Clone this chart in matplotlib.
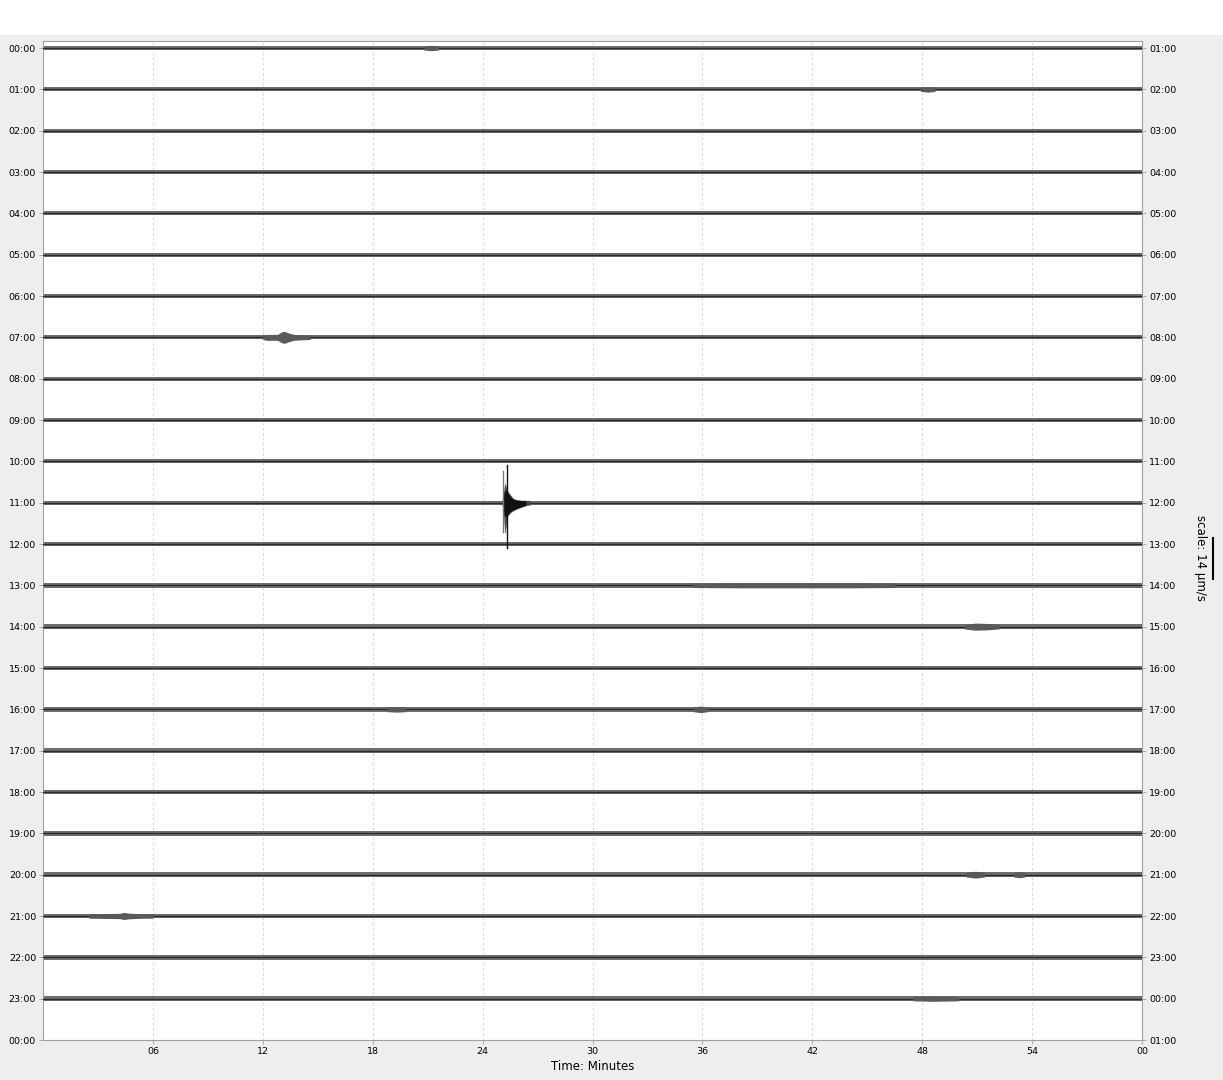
import numpy as np
import matplotlib
matplotlib.use("Agg")
import matplotlib.pyplot as plt
from matplotlib.patches import Rectangle
from matplotlib.lines import Line2D
from matplotlib.transforms import blended_transform_factory

# ---------------- data ----------------
ROW_STEP = 14.0  # µm/s per row (scale bar)
left_labels = ["%02d:00" % h for h in range(24)] + ["00:00"]
right_labels = ["%02d:00" % ((h + 1) % 24) for h in range(25)]
minute_ticks = [6, 12, 18, 24, 30, 36, 42, 48, 54, 60]
minute_labels = ["06", "12", "18", "24", "30", "36", "42", "48", "54", "00"]

# background noise half-amplitude per hourly row (µm/s)
row_noise = [0.7, 0.7, 0.7, 0.7, 0.7, 0.7, 0.72, 0.72, 0.7, 0.7,
             0.7, 0.72, 0.74, 0.74, 0.76, 0.78, 0.8, 0.78, 0.74, 0.78,
             0.8, 0.74, 0.74, 0.74]

# small bursts: (row, minutes, half-amplitudes µm/s)
burst_rows = [7, 14, 16, 16, 20, 20, 21, 13, 23, 1, 0]
burst_minutes = [
    [12.0, 12.2, 12.8, 13.05, 13.2, 13.4, 13.7, 14.1, 14.6],
    [50.3, 50.9, 51.5, 52.2],
    [35.5, 35.9, 36.3],
    [18.8, 19.3, 19.8],
    [50.4, 50.9, 51.4],
    [53.0, 53.3, 53.6],
    [2.5, 4.2, 4.4, 4.7, 5.2, 6.0],
    [35.5, 38.0, 44.0, 46.5],
    [47.5, 48.6, 50.0],
    [47.9, 48.3, 48.7],
    [20.8, 21.2, 21.6],
]
burst_amps = [
    [0.7, 1.0, 1.0, 1.9, 2.0, 1.5, 1.0, 0.85, 0.7],
    [0.76, 1.2, 1.1, 0.76],
    [0.8, 1.1, 0.8],
    [0.8, 0.95, 0.8],
    [0.8, 1.15, 0.8],
    [0.8, 1.05, 0.8],
    [0.74, 0.9, 1.2, 0.95, 0.8, 0.74],
    [0.74, 0.85, 0.85, 0.74],
    [0.74, 0.9, 0.74],
    [0.7, 0.95, 0.7],
    [0.7, 0.9, 0.7],
]

# main event in the 11:00 row (outer envelope and dark core)
event_row = 11
event_minutes = [25.08, 25.15, 25.22, 25.33, 25.50, 25.66, 25.88, 26.15, 26.37, 26.59]
event_upper = [0.7, 3.4, 6.4, 4.1, 2.7, 1.4, 0.8, 0.7, 0.7, 0.7]
event_lower = [0.7, 3.4, 10.2, 4.7, 3.4, 2.7, 2.0, 1.4, 0.9, 0.7]
core_minutes = [25.12, 25.2, 25.3, 25.45, 25.62, 25.85, 26.1, 26.35]
core_upper = [1.5, 3.8, 4.2, 2.4, 1.3, 0.8, 0.7, 0.7]
core_lower = [1.5, 4.5, 4.8, 3.2, 2.5, 1.9, 1.3, 0.8]
spike_minutes = [25.13, 25.35]
spike_top = [10.7, 12.8]
spike_bottom = [-9.9, -15.3]

# ---------------- figure ----------------
W, H = 1223, 1080
fig = plt.figure(figsize=(W / 100, H / 100), dpi=100)
fig.patch.set_facecolor("#eeeeee")
fig.patches.append(Rectangle((0, 1 - 35 / H), 1, 35 / H, transform=fig.transFigure,
                             facecolor="white", edgecolor="none", zorder=0))

ax = fig.add_axes([43 / W, 40 / H, (1142 - 43) / W, (1040 - 41) / H])
ax.set_facecolor("white")
top_y = 7 / 41.33 * ROW_STEP
ax.set_xlim(0, 60)
ax.set_ylim(-24 * ROW_STEP, top_y)

for x in minute_ticks[:-1]:
    ax.axvline(x, color="#d0d0d0", lw=0.6, ls=(0, (3, 3)), zorder=1)

band_color = "#6e6e6e"
line_color = "#2a2a2a"
for i, a in enumerate(row_noise):
    base = -i * ROW_STEP
    ax.fill_between([0, 60], [base - a] * 2, [base + a] * 2, color=band_color,
                    lw=0, zorder=2)
    ax.plot([0, 60], [base, base], color=line_color, lw=0.9, zorder=3)

for r, mins, amps in zip(burst_rows, burst_minutes, burst_amps):
    base = -r * ROW_STEP
    amps = np.array(amps)
    ax.fill_between(mins, base - amps, base + amps, color="#5a5a5a", lw=0, zorder=4)

base = -event_row * ROW_STEP
ax.fill_between(event_minutes, base - np.array(event_lower), base + np.array(event_upper),
                color="#4a4a4a", lw=0.3, zorder=5)
ax.fill_between(core_minutes, base - np.array(core_lower), base + np.array(core_upper),
                color="#111111", lw=0.3, zorder=6)
spike_colors = ["#777777", "#111111"]
for m, t, b, c in zip(spike_minutes, spike_top, spike_bottom, spike_colors):
    ax.plot([m, m], [base + b, base + t], color=c, lw=1.0, zorder=7)

for s in ax.spines.values():
    s.set_color("#a0a0a0")
    s.set_linewidth(0.8)

yt = [-i * ROW_STEP for i in range(25)]
ax.set_yticks(yt)
ax.set_yticklabels(left_labels, fontsize=6.8)
ax.set_xticks(minute_ticks)
ax.set_xticklabels(minute_labels, fontsize=6.8)
ax.tick_params(axis="both", length=3, width=0.6, color="#a0a0a0", pad=2)
ax.set_xlabel("Time: Minutes", fontsize=8.5, labelpad=3)

ax2 = ax.twinx()
ax2.set_ylim(ax.get_ylim())
ax2.set_yticks(yt)
ax2.set_yticklabels(right_labels, fontsize=6.8)
ax2.tick_params(axis="y", length=3, width=0.6, color="#a0a0a0", pad=2)
for s in ax2.spines.values():
    s.set_visible(False)

fig.text(1200 / W, 1 - 558 / H, "scale: 14 µm/s", rotation=270, fontsize=8.5,
         ha="center", va="center")
tr = blended_transform_factory(fig.transFigure, ax.transData)
fig.add_artist(Line2D([1213 / W, 1213 / W], [-172.8 + ROW_STEP / 2, -172.8 - ROW_STEP / 2],
                      transform=tr, color="black", lw=1.5))

fig.savefig("out.png", dpi=100, facecolor=fig.get_facecolor())
